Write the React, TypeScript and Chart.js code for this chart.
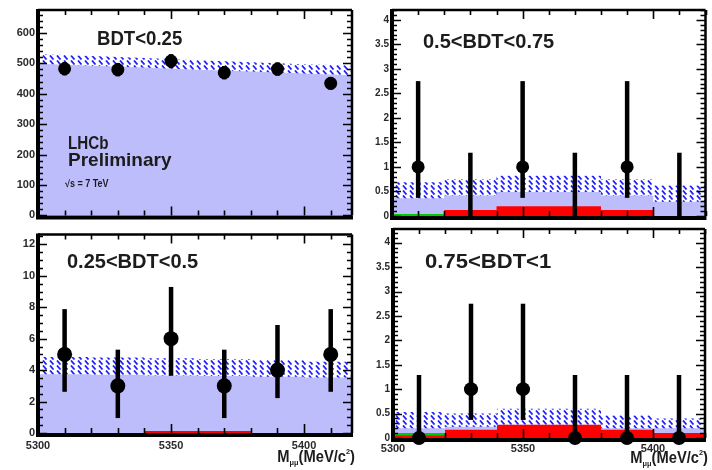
import { useEffect, useRef } from "react";
import { Chart, registerables } from "chart.js";

Chart.register(...registerables);

// Dimuon mass binning (MeV/c^2)
const BIN_CENTERS = [5310, 5330, 5350, 5370, 5390, 5410];
const BIN_EDGES = [5300, 5320, 5340, 5360, 5380, 5400, 5420];
const MASS_TICKS = [5300, 5350, 5400];

// BDT < 0.25
const BDT1_TICKS = [0, 100, 200, 300, 400, 500, 600];
const BDT1_COUNTS = [482, 479, 507, 469, 481, 434];
const BDT1_ERR_LO = [460, 457, 484, 447, 459, 413];
const BDT1_ERR_HI = [504, 501, 530, 491, 503, 455];
const BDT1_EXPECTED = [514, 508, 501, 494, 488, 481, 476];
const BDT1_BAND_LO = [498, 492, 486, 479, 473, 466, 460];
const BDT1_BAND_HI = [530, 524, 517, 510, 503, 497, 492];

// 0.25 < BDT < 0.5
const BDT2_TICKS = [0, 2, 4, 6, 8, 10, 12];
const BDT2_COUNTS = [5, 3, 6, 3, 4, 5];
const BDT2_ERR_LO = [2.62, 0.95, 3.64, 0.95, 2.22, 2.62];
const BDT2_ERR_HI = [7.88, 5.3, 9.29, 5.3, 6.87, 7.88];
const BDT2_EXPECTED = [4.28, 4.25, 4.2, 4.16, 4.1, 4.03, 4.03];
const BDT2_BAND_LO = [3.73, 3.7, 3.66, 3.62, 3.58, 3.53, 3.53];
const BDT2_BAND_HI = [4.83, 4.8, 4.75, 4.7, 4.62, 4.54, 4.54];
const BDT2_MISID = [0, 0, 0.12, 0.12, 0, 0, 0];

// 0.5 < BDT < 0.75
const BDT3_TICKS = [0, 0.5, 1, 1.5, 2, 2.5, 3, 3.5, 4];
const BDT3_COUNTS = [1, 0, 1, 0, 1, 0];
const BDT3_ERR_LO = [0.37, 0, 0.37, 0, 0.37, 0];
const BDT3_ERR_HI = [2.75, 1.29, 2.75, 1.29, 2.75, 1.29];
const BDT3_EXPECTED = [0.52, 0.58, 0.65, 0.65, 0.58, 0.45, 0.45];
const BDT3_BAND_LO = [0.36, 0.42, 0.49, 0.49, 0.42, 0.29, 0.29];
const BDT3_BAND_HI = [0.69, 0.75, 0.82, 0.82, 0.75, 0.62, 0.62];
const BDT3_MISID = [0, 0.12, 0.2, 0.2, 0.12, 0, 0];
const BDT3_OTHER = [0.04, 0, 0, 0, 0, 0, 0];

// 0.75 < BDT < 1
const BDT4_TICKS = [0, 0.5, 1, 1.5, 2, 2.5, 3, 3.5, 4];
const BDT4_COUNTS = [0, 1, 1, 0, 0, 0];
const BDT4_ERR_LO = [0, 0.37, 0.37, 0, 0, 0];
const BDT4_ERR_HI = [1.29, 2.75, 2.75, 1.29, 1.29, 1.29];
const BDT4_EXPECTED = [0.37, 0.37, 0.43, 0.43, 0.33, 0.3, 0.3];
const BDT4_BAND_LO = [0.2, 0.23, 0.27, 0.27, 0.2, 0.2, 0.2];
const BDT4_BAND_HI = [0.53, 0.5, 0.6, 0.6, 0.46, 0.4, 0.4];
const BDT4_MISID = [0.05, 0.17, 0.27, 0.27, 0.17, 0.1, 0.1];
const BDT4_OTHER = [0.1, 0, 0, 0, 0, 0, 0];

const FONT = "'Liberation Sans', Arial, Helvetica, sans-serif";
const INK = "#1c1c1c";
const LAVENDER = "rgb(189,189,252)";
const RED = "rgb(255,0,0)";
const GREEN = "rgb(0,205,0)";
const HATCH_BLUE = "rgb(30,30,255)";

type Text = { text: string; dx: number; dy: number; size: number; sx: number };

interface Panel {
  id: string;
  box: { x: number; y: number; w: number; h: number };
  padTop: number;
  padRight: number;
  yAxisWidth: number;
  xAxisHeight: number;
  xMax: number;
  yMax: number;
  yTicks: number[];
  yMinor: number;
  yFont: number;
  counts: number[];
  errLo: number[];
  errHi: number[];
  expected: number[];
  bandLo: number[];
  bandHi: number[];
  misid?: number[];
  other?: number[];
  stepped: boolean;
  massLabels: boolean;
  massLabelPad: number;
  titleBaseline: number;
  hideEmpty: boolean;
  radius: number;
  texts: Text[];
}

const PANELS: Panel[] = [
  {
    id: "bdt1",
    box: { x: 0, y: 0, w: 360, h: 225 },
    padTop: 10, padRight: 8, yAxisWidth: 38, xAxisHeight: 4,
    xMax: 5418, yMax: 675, yTicks: BDT1_TICKS, yMinor: 20, yFont: 11,
    counts: BDT1_COUNTS, errLo: BDT1_ERR_LO, errHi: BDT1_ERR_HI,
    expected: BDT1_EXPECTED, bandLo: BDT1_BAND_LO, bandHi: BDT1_BAND_HI,
    stepped: false, massLabels: false, massLabelPad: 0, titleBaseline: 0,
    hideEmpty: false, radius: 6.5,
    texts: [
      { text: "BDT<0.25", dx: 59, dy: 35, size: 20, sx: 0.93 },
      { text: "LHCb", dx: 30, dy: 139, size: 19, sx: 0.8 },
      { text: "Preliminary", dx: 30, dy: 156, size: 19, sx: 1.0 },
      { text: "\u221As = 7 TeV", dx: 27, dy: 177, size: 10, sx: 0.9 },
    ],
  },
  {
    id: "bdt2",
    box: { x: 0, y: 225, w: 360, h: 245 },
    padTop: 0, padRight: 8, yAxisWidth: 38, xAxisHeight: 37,
    xMax: 5418, yMax: 12.62, yTicks: BDT2_TICKS, yMinor: 0.5, yFont: 11,
    counts: BDT2_COUNTS, errLo: BDT2_ERR_LO, errHi: BDT2_ERR_HI,
    expected: BDT2_EXPECTED, bandLo: BDT2_BAND_LO, bandHi: BDT2_BAND_HI,
    misid: BDT2_MISID,
    stepped: true, massLabels: true, massLabelPad: 6, titleBaseline: 29,
    hideEmpty: false, radius: 7.5,
    texts: [{ text: "0.25<BDT<0.5", dx: 29, dy: 33, size: 20, sx: 1.0 }],
  },
  {
    id: "bdt3",
    box: { x: 360, y: 0, w: 352, h: 225 },
    padTop: 10, padRight: 1, yAxisWidth: 32, xAxisHeight: 5,
    xMax: 5420, yMax: 4.2, yTicks: BDT3_TICKS, yMinor: 0.1, yFont: 10,
    counts: BDT3_COUNTS, errLo: BDT3_ERR_LO, errHi: BDT3_ERR_HI,
    expected: BDT3_EXPECTED, bandLo: BDT3_BAND_LO, bandHi: BDT3_BAND_HI,
    misid: BDT3_MISID, other: BDT3_OTHER,
    stepped: true, massLabels: false, massLabelPad: 0, titleBaseline: 0,
    hideEmpty: true, radius: 6.5,
    texts: [{ text: "0.5<BDT<0.75", dx: 31, dy: 38, size: 20, sx: 1.0 }],
  },
  {
    id: "bdt4",
    box: { x: 360, y: 220, w: 352, h: 250 },
    padTop: 4, padRight: 1, yAxisWidth: 33, xAxisHeight: 32,
    xMax: 5420, yMax: 4.28, yTicks: BDT4_TICKS, yMinor: 0.1, yFont: 10,
    counts: BDT4_COUNTS, errLo: BDT4_ERR_LO, errHi: BDT4_ERR_HI,
    expected: BDT4_EXPECTED, bandLo: BDT4_BAND_LO, bandHi: BDT4_BAND_HI,
    misid: BDT4_MISID, other: BDT4_OTHER,
    stepped: true, massLabels: true, massLabelPad: 4, titleBaseline: 25,
    hideEmpty: false, radius: 7,
    texts: [{ text: "0.75<BDT<1", dx: 32, dy: 39, size: 21, sx: 1.05 }],
  },
];

// White-backed diagonal dash hatch used for the uncertainty band
function makeHatch(): CanvasPattern | string {
  const tile = document.createElement("canvas");
  tile.width = 7;
  tile.height = 5;
  const g = tile.getContext("2d");
  if (!g) return "rgba(255,255,255,0.8)";
  g.fillStyle = "#ffffff";
  g.fillRect(0, 0, 7, 5);
  g.strokeStyle = HATCH_BLUE;
  g.lineWidth = 1.8;
  g.beginPath();
  g.moveTo(1, 0.5);
  g.lineTo(4.5, 4.5);
  g.stroke();
  return g.createPattern(tile, "repeat") || "rgba(255,255,255,0.8)";
}

const edgeSeries = (vals: number[]) => BIN_EDGES.map((x, i) => ({ x, y: vals[i] }));

function drawScaled(ctx: CanvasRenderingContext2D, t: Text, x: number, y: number) {
  ctx.save();
  ctx.translate(x, y);
  ctx.scale(t.sx, 1);
  ctx.font = `bold ${t.size}px ${FONT}`;
  ctx.fillStyle = INK;
  ctx.textAlign = "left";
  ctx.textBaseline = "alphabetic";
  ctx.fillText(t.text, 0, 0);
  ctx.restore();
}

function drawMassTitle(ctx: CanvasRenderingContext2D, right: number, baseline: number) {
  const parts = [
    { s: "M", size: 16, dy: 0 },
    { s: "\u03BC\u03BC", size: 8, dy: 3 },
    { s: "(MeV/c", size: 16, dy: 0 },
    { s: "2", size: 8, dy: -8 },
    { s: ")", size: 16, dy: 0 },
  ];
  const sx = 0.92;
  ctx.save();
  ctx.fillStyle = INK;
  ctx.textBaseline = "alphabetic";
  ctx.textAlign = "left";
  let total = 0;
  for (const p of parts) {
    ctx.font = `bold ${p.size}px ${FONT}`;
    total += ctx.measureText(p.s).width;
  }
  ctx.translate(right - total * sx, baseline);
  ctx.scale(sx, 1);
  let x = 0;
  for (const p of parts) {
    ctx.font = `bold ${p.size}px ${FONT}`;
    ctx.fillText(p.s, x, p.dy);
    x += ctx.measureText(p.s).width;
  }
  ctx.restore();
}

function buildConfig(p: Panel): any {
  const hatch = makeHatch();
  const datasets: any[] = [];

  datasets.push({
    label: "data",
    data: BIN_CENTERS.map((x, i) => ({ x, y: p.counts[i] })),
    showLine: false,
    pointRadius: (c: any) => (p.hideEmpty && c.raw && c.raw.y === 0 ? 0 : p.radius),
    pointBackgroundColor: "#000",
    pointBorderWidth: 0,
    clip: false,
  });
  if (p.misid) {
    datasets.push({
      label: "misid",
      data: edgeSeries(p.misid),
      stepped: true,
      borderWidth: 0,
      pointRadius: 0,
      backgroundColor: RED,
      fill: "origin",
    });
  }
  if (p.other) {
    datasets.push({
      label: "other",
      data: edgeSeries(p.other),
      stepped: true,
      borderWidth: 0,
      pointRadius: 0,
      backgroundColor: GREEN,
      fill: "origin",
    });
  }
  datasets.push({
    label: "band-hi",
    data: edgeSeries(p.bandHi),
    stepped: p.stepped,
    borderWidth: 0,
    pointRadius: 0,
    backgroundColor: hatch,
    fill: "+1",
  });
  datasets.push({
    label: "band-lo",
    data: edgeSeries(p.bandLo),
    stepped: p.stepped,
    borderWidth: 0,
    pointRadius: 0,
    fill: false,
  });
  datasets.push({
    label: "expected",
    data: edgeSeries(p.expected),
    stepped: p.stepped,
    borderWidth: 0,
    pointRadius: 0,
    backgroundColor: LAVENDER,
    fill: "origin",
  });

  const panelPlugin = {
    id: "panel-" + p.id,
    beforeDatasetDraw(chart: any, args: any) {
      if (args.index !== 0) return;
      // vertical error bars under the data markers
      const ctx = chart.ctx as CanvasRenderingContext2D;
      const xs = chart.scales.x;
      const ys = chart.scales.y;
      ctx.save();
      ctx.strokeStyle = "#000";
      ctx.lineWidth = 4.5;
      ctx.lineCap = "butt";
      BIN_CENTERS.forEach((m, i) => {
        const x = xs.getPixelForValue(m);
        ctx.beginPath();
        ctx.moveTo(x, ys.getPixelForValue(p.errLo[i]));
        ctx.lineTo(x, ys.getPixelForValue(p.errHi[i]));
        ctx.stroke();
      });
      ctx.restore();
    },
    afterDatasetsDraw(chart: any) {
      const ctx = chart.ctx as CanvasRenderingContext2D;
      const a = chart.chartArea;
      const xs = chart.scales.x;
      const ys = chart.scales.y;
      ctx.save();
      ctx.strokeStyle = "#000";
      ctx.lineCap = "butt";

      // tick marks, pointing into the frame on all four sides
      ctx.lineWidth = 1.6;
      ctx.beginPath();
      const nY = Math.floor(p.yMax / p.yMinor + 1e-6);
      for (let k = 0; k <= nY; k++) {
        const v = k * p.yMinor;
        const major = p.yTicks.some((t) => Math.abs(t - v) < 1e-6);
        const len = major ? 9 : 5;
        const y = Math.round(ys.getPixelForValue(v)) + 0.5;
        ctx.moveTo(a.left, y);
        ctx.lineTo(a.left + len, y);
        ctx.moveTo(a.right, y);
        ctx.lineTo(a.right - len, y);
      }
      for (let m = BIN_EDGES[0]; m <= p.xMax; m += 10) {
        const major = MASS_TICKS.includes(m);
        const len = major ? 9 : 5;
        const x = Math.round(xs.getPixelForValue(m)) + 0.5;
        ctx.moveTo(x, a.bottom);
        ctx.lineTo(x, a.bottom - len);
        ctx.moveTo(x, a.top);
        ctx.lineTo(x, a.top + len);
      }
      ctx.stroke();

      // frame
      ctx.lineWidth = 2.5;
      ctx.beginPath();
      ctx.moveTo(a.left, a.top);
      ctx.lineTo(a.right, a.top);
      ctx.moveTo(a.right, a.top);
      ctx.lineTo(a.right, a.bottom);
      ctx.stroke();
      ctx.lineWidth = 4;
      ctx.beginPath();
      ctx.moveTo(a.left, a.top - 1);
      ctx.lineTo(a.left, a.bottom + 2);
      ctx.lineTo(a.right + 1, a.bottom + 2);
      ctx.stroke();
      ctx.restore();

      for (const t of p.texts) drawScaled(ctx, t, a.left + t.dx, a.top + t.dy);
      if (p.massLabels) drawMassTitle(ctx, a.right + 3, a.bottom + p.titleBaseline);
    },
  };

  return {
    type: "line",
    data: { datasets },
    options: {
      animation: false,
      responsive: false,
      maintainAspectRatio: false,
      events: [],
      layout: { padding: { left: 0, top: p.padTop, right: p.padRight, bottom: 0 } },
      plugins: { legend: { display: false }, tooltip: { enabled: false } },
      scales: {
        x: {
          type: "linear",
          min: BIN_EDGES[0],
          max: p.xMax,
          grid: { display: false, drawTicks: false },
          border: { display: false },
          ticks: {
            display: p.massLabels,
            autoSkip: false,
            maxRotation: 0,
            padding: p.massLabelPad,
            color: "#2a2a2a",
            font: { family: FONT, size: 11, weight: "bold" },
            callback: (v: any) => String(v),
          },
          afterBuildTicks: (s: any) => {
            s.ticks = MASS_TICKS.map((v) => ({ value: v }));
          },
          afterFit: (s: any) => {
            s.height = p.xAxisHeight;
          },
        },
        y: {
          type: "linear",
          min: 0,
          max: p.yMax,
          grid: { display: false, drawTicks: false },
          border: { display: false },
          ticks: {
            autoSkip: false,
            padding: 3,
            color: "#2a2a2a",
            font: { family: FONT, size: p.yFont, weight: "bold" },
            callback: (v: any) => String(v),
          },
          afterBuildTicks: (s: any) => {
            s.ticks = p.yTicks.map((v) => ({ value: v }));
          },
          afterFit: (s: any) => {
            s.width = p.yAxisWidth;
          },
        },
      },
    },
    plugins: [panelPlugin],
  };
}

function PanelChart({ panel }: { panel: Panel }) {
  const ref = useRef<HTMLCanvasElement>(null);
  useEffect(() => {
    const canvas = ref.current;
    if (!canvas) return;
    const chart = new Chart(canvas, buildConfig(panel));
    return () => chart.destroy();
  }, [panel]);
  const b = panel.box;
  return (
    <canvas
      ref={ref}
      width={b.w}
      height={b.h}
      style={{ position: "absolute", left: b.x, top: b.y, width: b.w, height: b.h }}
    />
  );
}

export default function App() {
  return (
    <div
      style={{
        position: "absolute",
        left: 0,
        top: 0,
        width: 712,
        height: 470,
        overflow: "hidden",
        background: "#ffffff",
      }}
    >
      {PANELS.map((p) => (
        <PanelChart key={p.id} panel={p} />
      ))}
    </div>
  );
}
